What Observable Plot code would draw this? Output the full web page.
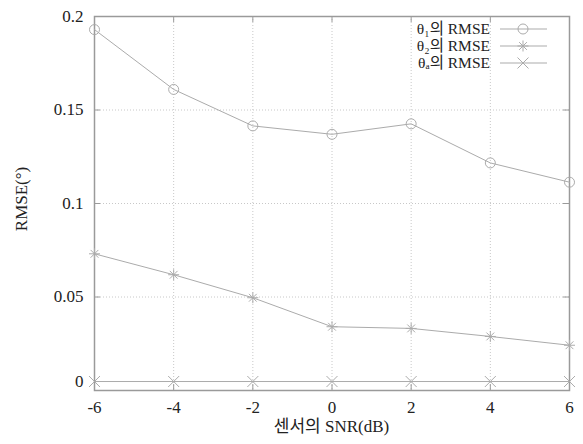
<!DOCTYPE html>
<html>
<head>
<meta charset="utf-8">
<script src="https://cdn.jsdelivr.net/npm/d3@7"></script>
<script src="https://cdn.jsdelivr.net/npm/@observablehq/plot@0.6"></script>
<style>
  html, body { margin: 0; padding: 0; background: #fff; }
  #chart svg { display: block; }
</style>
</head>
<body>
<div id="chart"></div>
<script>
// ---- data ----
const snr = [-6, -4, -2, 0, 2, 4, 6];
const rmseTheta1 = [0.193, 0.161, 0.1415, 0.137, 0.1426, 0.1217, 0.1114];
const rmseTheta2 = [0.0731, 0.0619, 0.0496, 0.0341, 0.0332, 0.0289, 0.0242];
const rmseThetaA = [0.0048, 0.0048, 0.0048, 0.0048, 0.0048, 0.0048, 0.0048];
const xTicks = [-6, -4, -2, 0, 2, 4, 6];
const yTicks = [0.05, 0.1, 0.15, 0.2];
const yTickZero = [0];
const seriesNames = ["theta1", "theta2", "thetaA"];
const legendLabels = ["θ₁의 RMSE", "θ₂의 RMSE", "θₐ의 RMSE"];

const FONT = "'Liberation Serif', 'Noto Sans CJK KR', serif";
const GRAY = "#ababab";
const FRAME = "#9a9a9a";

// 8-arm asterisk (gnuplot pt 3)
const asterisk8 = {
  draw(ctx, size) {
    const r = Math.sqrt(size) * 0.62;
    const d = r * Math.SQRT1_2;
    ctx.moveTo(-r, 0); ctx.lineTo(r, 0);
    ctx.moveTo(0, -r); ctx.lineTo(0, r);
    ctx.moveTo(-d, -d); ctx.lineTo(d, d);
    ctx.moveTo(-d, d); ctx.lineTo(d, -d);
  }
};
const times = {
  draw(ctx, size) {
    const r = Math.sqrt(size) * 0.62;
    ctx.moveTo(-r, -r); ctx.lineTo(r, r);
    ctx.moveTo(-r, r); ctx.lineTo(r, -r);
  }
};

const rows = [];
const seriesVals = [rmseTheta1, rmseTheta2, rmseThetaA];
seriesNames.forEach((s, i) => snr.forEach((x, j) => rows.push({series: s, x, y: seriesVals[i][j]})));
const symbols = {theta1: "circle", theta2: asterisk8, thetaA: times};

const W = 583, H = 444;
const mL = 94, mR = 14, mT = 16, mB = 54;
const tickLenY = 0.2 * 6 / (H - mT - mB);
const tickLenX = 12 * 6 / (W - mL - mR);

const plot = Plot.plot({
  width: W,
  height: H,
  marginLeft: mL,
  marginRight: mR,
  marginTop: mT,
  marginBottom: mB,
  style: {fontFamily: FONT, fontSize: "17px", color: "#222", background: "#fff"},
  x: {domain: [-6, 6]},
  y: {domain: [0, 0.2]},
  marks: [
    // dotted grid
    Plot.gridX(xTicks, {stroke: "#c8c8c8", strokeOpacity: 1, strokeDasharray: "1,2"}),
    Plot.gridY(yTicks, {stroke: "#c8c8c8", strokeOpacity: 1, strokeDasharray: "1,2"}),
    // inward ticks on all four sides
    Plot.ruleX(xTicks, {x: d => d, y1: 0, y2: tickLenY, stroke: FRAME}),
    Plot.ruleX(xTicks, {x: d => d, y1: 0.2, y2: 0.2 - tickLenY, stroke: FRAME}),
    Plot.ruleY(yTicks, {y: d => d, x1: -6, x2: -6 + tickLenX, stroke: FRAME}),
    Plot.ruleY(yTicks, {y: d => d, x1: 6, x2: 6 - tickLenX, stroke: FRAME}),
    // axes labels
    Plot.axisX(xTicks, {tickSize: 0, tickPadding: 10, tickFormat: d => String(d), label: null, fontSize: 17}),
    Plot.axisY(yTicks, {tickSize: 0, tickPadding: 11, tickFormat: d => String(d), label: null, fontSize: 17}),
    Plot.axisY(yTickZero, {tickSize: 0, tickPadding: 11, tickFormat: d => String(d), label: null, fontSize: 17, dy: -9}),
    // frame
    Plot.frame({stroke: FRAME, strokeWidth: 1.5}),
    // series
    Plot.line(rows, {x: "x", y: "y", z: "series", stroke: GRAY, strokeWidth: 1}),
    ...seriesNames.map(s =>
      Plot.dot(rows.filter(d => d.series === s), {x: "x", y: "y", symbol: symbols[s], r: 5, stroke: GRAY, strokeWidth: 1, fill: "none"})
    )
  ]
});

const svg = d3.select(plot);

// axis titles
svg.append("text")
  .attr("x", (mL + (W - mR)) / 2).attr("y", 428)
  .attr("text-anchor", "middle").attr("dominant-baseline", "middle")
  .attr("font-size", 17).attr("fill", "#222")
  .text("센서의 SNR(dB)");
svg.append("text")
  .attr("transform", `translate(23,199) rotate(-90)`)
  .attr("text-anchor", "middle").attr("dominant-baseline", "middle")
  .attr("font-size", 17).attr("fill", "#222")
  .text("RMSE(°)");

// legend (top-right inside frame)
const legend = svg.append("g");
const legendY = [29, 46, 63];
const symList = [d3.symbolCircle, asterisk8, times];
legendY.forEach((ly, i) => {
  legend.append("text")
    .attr("x", 490).attr("y", ly + 5)
    .attr("text-anchor", "end")
    .attr("font-size", 15.5).attr("fill", "#222")
    .text(legendLabels[i]);
  legend.append("line")
    .attr("x1", 500).attr("x2", 547).attr("y1", ly).attr("y2", ly)
    .attr("stroke", GRAY).attr("stroke-width", 1);
  legend.append("path")
    .attr("transform", `translate(523,${ly})`)
    .attr("d", d3.symbol(symList[i], 78.5)())
    .attr("fill", "none").attr("stroke", GRAY).attr("stroke-width", 1);
});

// force serif font on every text element
svg.style("font-family", FONT);
svg.selectAll("text, tspan").style("font-family", FONT);

document.getElementById("chart").appendChild(plot);
</script>
</body>
</html>
